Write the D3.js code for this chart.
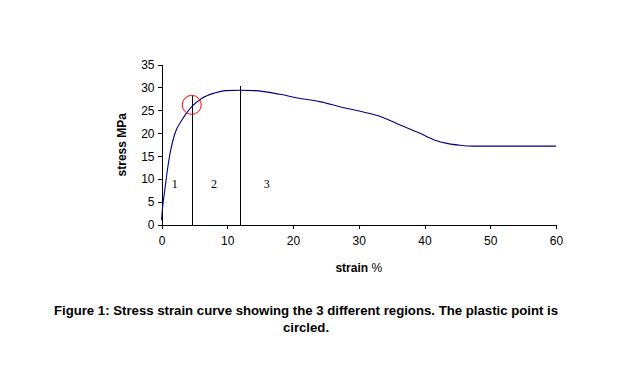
<!DOCTYPE html>
<html>
<head>
<meta charset="utf-8">
<script src="https://cdn.jsdelivr.net/npm/d3@7"></script>
<style>
  body { margin: 0; background: #fff; }
  text { font-family: "Liberation Sans", Arial, sans-serif; }
</style>
</head>
<body>
<div id="chart"></div>
<script>
// curve: strain %, stress MPa
let strain = [0, 0.15, 0.5, 0.9, 1.3, 2.05, 3.1, 4.6, 6.1, 8.1, 9.7, 11.9, 14.2, 18, 21.1, 24.1, 27.1, 30.2, 33.2, 36.3, 39.3, 41.6, 43.4, 45.4, 47.4, 60];
let stress = [1, 3.6, 7.6, 12, 15.6, 20, 22.9, 25.8, 27.6, 28.8, 29.3, 29.4, 29.3, 28.5, 27.6, 26.9, 25.8, 24.8, 23.7, 21.8, 20, 18.5, 17.8, 17.4, 17.2, 17.2];

let xTicks = [0, 10, 20, 30, 40, 50, 60];
let yTicks = [0, 5, 10, 15, 20, 25, 30, 35];

// region boundaries and their tops
let dividers = [{x: 4.7, top: 28.3}, {x: 11.9, top: 30.3}];
let regionLabels = [{x: 2, label: "1"}, {x: 8, label: "2"}, {x: 16, label: "3"}];
let plasticPoint = {x: 4.6, y: 26.2};

let width = 630, height = 374;

let svg = d3.select('#chart')
    .append('svg')
    .attr('width', width)
    .attr('height', height);

let x = d3.scaleLinear().domain([0, 60]).range([161.5, 556]);
let y = d3.scaleLinear().domain([0, 35]).range([225, 64.5]);

let xAxis = svg.append('g')
    .attr('transform', 'translate(0,' + y(0) + ')')
    .call(d3.axisBottom(x).tickValues(xTicks).tickSize(4).tickSizeOuter(0));

let yAxis = svg.append('g')
    .attr('transform', 'translate(' + x(0) + ',0)')
    .call(d3.axisLeft(y).tickValues(yTicks).tickSize(4).tickSizeOuter(0));

[xAxis, yAxis].forEach(function(a){
    a.selectAll('path, line').attr('stroke', '#000').attr('shape-rendering', 'crispEdges');
    a.selectAll('text')
        .style('font-family', '"Liberation Sans", Arial, sans-serif')
        .style('font-size', '12px')
        .attr('fill', '#000');
});
xAxis.selectAll('text').attr('dy', '1.05em').attr('y', 7);
yAxis.selectAll('text').attr('x', -7);

// region dividers
svg.selectAll('.divider')
    .data(dividers)
    .enter().append('line')
    .attr('class', 'divider')
    .attr('x1', function(d){ return Math.round(x(d.x)) + 0.5; })
    .attr('x2', function(d){ return Math.round(x(d.x)) + 0.5; })
    .attr('y1', y(0))
    .attr('y2', function(d){ return y(d.top); })
    .attr('stroke', '#000')
    .attr('stroke-width', 1);

svg.selectAll('.region')
    .data(regionLabels)
    .enter().append('text')
    .attr('class', 'region')
    .attr('x', function(d){ return x(d.x); })
    .attr('y', y(8))
    .attr('text-anchor', 'middle')
    .style('font-family', '"Liberation Serif", "Times New Roman", serif')
    .style('font-size', '12px')
    .text(function(d){ return d.label; });

// the curve
let line = d3.line()
    .x(function(d, i){ return x(strain[i]); })
    .y(function(d){ return y(d); })
    .curve(d3.curveMonotoneX);

svg.append('path')
    .datum(stress)
    .attr('d', line)
    .attr('fill', 'none')
    .attr('stroke', '#000080')
    .attr('stroke-width', 1.1);

// plastic point
svg.append('circle')
    .attr('cx', x(plasticPoint.x))
    .attr('cy', y(plasticPoint.y))
    .attr('r', 9.5)
    .attr('fill', 'none')
    .attr('stroke', '#ff0000')
    .attr('stroke-width', 1);

// axis titles
svg.append('text')
    .attr('transform', 'translate(126,' + y(17.5) + ') rotate(-90)')
    .attr('text-anchor', 'middle')
    .style('font-size', '12px')
    .style('font-weight', 'bold')
    .text('stress MPa');

let xt = svg.append('text')
    .attr('x', x(30))
    .attr('y', 272)
    .attr('text-anchor', 'middle')
    .style('font-size', '12px');
xt.append('tspan').style('font-weight', 'bold').text('strain ');
xt.append('tspan').text('%');

// caption
let caption = [
    'Figure 1: Stress strain curve showing the 3 different regions. The plastic point is',
    'circled.'
];
svg.selectAll('.caption')
    .data(caption)
    .enter().append('text')
    .attr('class', 'caption')
    .attr('x', 306)
    .attr('y', function(d, i){ return 315 + i * 17; })
    .attr('text-anchor', 'middle')
    .style('font-size', '13.2px')
    .style('font-weight', 'bold')
    .text(function(d){ return d; });
</script>
</body>
</html>
